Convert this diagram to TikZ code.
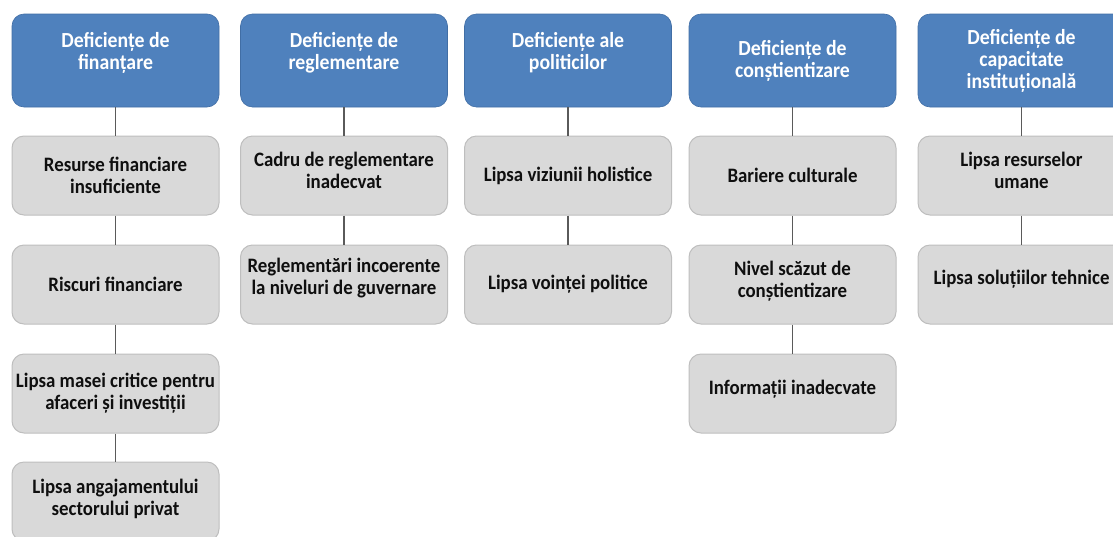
\documentclass[tikz,border=0pt]{standalone}
\usepackage{fontspec}
\setmainfont{Carlito}[FakeStretch=0.92]
\definecolor{hblue}{RGB}{79,129,189}
\definecolor{hborder}{RGB}{65,110,165}
\definecolor{gfill}{RGB}{217,217,217}
\definecolor{gborder}{RGB}{190,190,190}
\definecolor{lnk}{RGB}{90,90,90}
\definecolor{txt}{RGB}{15,15,15}
\begin{document}
\begin{tikzpicture}[x=1pt,y=-1pt,
  base/.style={rectangle, rounded corners=12pt, minimum width=207pt, minimum height=79pt,
     align=center, inner sep=2pt},
  head/.style={base, minimum height=93pt, fill=hblue, draw=hborder, line width=0.6pt, text=white,
     font=\fontsize{21.5}{22}\selectfont\bfseries},
  item/.style={base, fill=gfill, draw=gborder, line width=1pt, text=txt,
     font=\fontsize{20.5}{22}\selectfont\bfseries},
  lift/.style={text depth=#1},
  link/.style={draw=lnk, line width=1.6pt}]
\useasboundingbox (0,0) rectangle (1113,536);
\begin{scope}
\clip (0,0) rectangle (1113,536);
% headers
\node[head, lift=19pt] (h1) at (115.5,60.5) {Deficiențe de\\finanțare};
\node[head, lift=19pt] (h2) at (344,60.5) {Deficiențe de\\reglementare};
\node[head, lift=19pt] (h3) at (568,60.5) {Deficiențe ale\\politicilor};
\node[head] (h4) at (792.5,60.5) {Deficiențe de\\conștientizare};
\node[head] (h5) at (1021.5,60.5) {Deficiențe de\\capacitate\\instituțională};
% column 1
\node[item] (a1) at (115.5,175.5) {Resurse financiare\\insuficiente};
\node[item] (a2) at (115.5,284.5) {Riscuri financiare};
\node[item] (a3) at (115.5,393.5) {Lipsa masei critice pentru\\afaceri și investiții};
\node[item, lift=9pt] (a4) at (115.5,501.5) {Lipsa angajamentului\\sectorului privat};
% column 2
\node[item, lift=11pt] (b1) at (344,175.5) {Cadru de reglementare\\inadecvat};
\node[item, lift=17pt] (b2) at (344,284.5) {Reglementări incoerente\\la niveluri de guvernare};
% column 3
\node[item] (c1) at (568,175.5) {Lipsa viziunii holistice};
\node[item] (c2) at (568,284.5) {Lipsa voinței politice};
% column 4
\node[item] (d1) at (792.5,175.5) {Bariere culturale};
\node[item, lift=11pt] (d2) at (792.5,284.5) {Nivel scăzut de\\conștientizare};
\node[item, lift=13pt] (d3) at (792.5,393.5) {Informații inadecvate};
% column 5
\node[item, lift=11pt] (e1) at (1021.5,175.5) {Lipsa resurselor\\umane};
\node[item, lift=15pt] (e2) at (1021.5,284.5) {Lipsa soluțiilor tehnice};
% connectors
\draw[link] (h1) -- (a1);
\draw[link] (a1) -- (a2);
\draw[link] (a2) -- (a3);
\draw[link] (a3) -- (a4);
\draw[link] (h2) -- (b1);
\draw[link] (b1) -- (b2);
\draw[link] (h3) -- (c1);
\draw[link] (c1) -- (c2);
\draw[link] (h4) -- (d1);
\draw[link] (d1) -- (d2);
\draw[link] (d2) -- (d3);
\draw[link] (h5) -- (e1);
\draw[link] (e1) -- (e2);
\end{scope}
\end{tikzpicture}
\end{document}
